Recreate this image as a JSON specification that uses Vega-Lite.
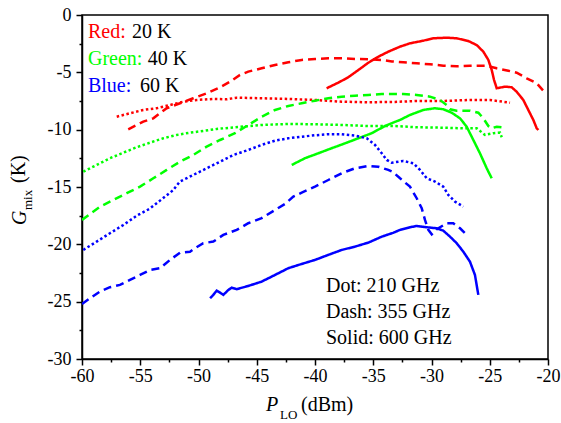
{
  "$schema": "https://vega.github.io/schema/vega-lite/v6.json",
  "width": 466,
  "height": 344,
  "autosize": {"type": "none"},
  "padding": {"left": 82, "top": 15, "right": 13, "bottom": 64},
  "background": "white",
  "config": {
    "view": {"stroke": "black", "strokeWidth": 1.5},
    "text": {"font": "Liberation Serif, Times New Roman, DejaVu Serif, serif"},
    "axis": {
      "grid": false,
      "domainColor": "black",
      "domainWidth": 1.5,
      "tickColor": "black",
      "tickWidth": 1.5,
      "labelFont": "Liberation Serif, Times New Roman, DejaVu Serif, serif",
      "labelFontSize": 18,
      "labelColor": "black",
      "labelOverlap": false,
      "labelFlush": false
    }
  },
  "encoding": {
    "x": {"field": "x", "type": "quantitative",
      "scale": {"domain": [-60, -20], "nice": false, "zero": false},
      "axis": {
        "title": null,
        "values": [-60,-57.5,-55,-52.5,-50,-47.5,-45,-42.5,-40,-37.5,-35,-32.5,-30,-27.5,-25,-22.5,-20],
        "labelExpr": "datum.value % 5 === 0 ? '' + datum.value : ''",
        "tickSize": {"condition": {"test": "datum.value % 5 === 0", "value": 6}, "value": 3},
        "labelPadding": 2
      }},
    "y": {"field": "y", "type": "quantitative",
      "scale": {"domain": [-30, 0], "nice": false, "zero": false},
      "axis": {
        "title": null,
        "values": [-30,-27.5,-25,-22.5,-20,-17.5,-15,-12.5,-10,-7.5,-5,-2.5,0],
        "labelExpr": "datum.value % 5 === 0 ? '' + datum.value : ''",
        "tickSize": {"condition": {"test": "datum.value % 5 === 0", "value": 6}, "value": 3},
        "labelPadding": 5
      }}
  },
  "layer": [
    {
      "data": {"values": [
        {"t":"20 K","f":"600 GHz","x":-39.0,"y":-6.39},{"t":"20 K","f":"600 GHz","x":-38.0,"y":-5.90},{"t":"20 K","f":"600 GHz","x":-37.14,"y":-5.43},{"t":"20 K","f":"600 GHz","x":-36.28,"y":-4.80},{"t":"20 K","f":"600 GHz","x":-35.42,"y":-4.16},{"t":"20 K","f":"600 GHz","x":-34.57,"y":-3.64},{"t":"20 K","f":"600 GHz","x":-33.71,"y":-3.20},{"t":"20 K","f":"600 GHz","x":-32.70,"y":-2.76},{"t":"20 K","f":"600 GHz","x":-31.85,"y":-2.47},{"t":"20 K","f":"600 GHz","x":-30.70,"y":-2.24},{"t":"20 K","f":"600 GHz","x":-29.85,"y":-2.03},{"t":"20 K","f":"600 GHz","x":-28.69,"y":-1.98},{"t":"20 K","f":"600 GHz","x":-27.84,"y":-2.03},{"t":"20 K","f":"600 GHz","x":-26.84,"y":-2.27},{"t":"20 K","f":"600 GHz","x":-26.12,"y":-2.62},{"t":"20 K","f":"600 GHz","x":-25.55,"y":-3.20},{"t":"20 K","f":"600 GHz","x":-25.12,"y":-3.92},{"t":"20 K","f":"600 GHz","x":-24.83,"y":-4.80},{"t":"20 K","f":"600 GHz","x":-24.63,"y":-5.67},{"t":"20 K","f":"600 GHz","x":-24.40,"y":-6.39},{"t":"20 K","f":"600 GHz","x":-23.69,"y":-6.25},{"t":"20 K","f":"600 GHz","x":-23.12,"y":-6.30},{"t":"20 K","f":"600 GHz","x":-22.69,"y":-6.69},{"t":"20 K","f":"600 GHz","x":-22.12,"y":-7.41},{"t":"20 K","f":"600 GHz","x":-21.69,"y":-8.28},{"t":"20 K","f":"600 GHz","x":-21.26,"y":-9.15},{"t":"20 K","f":"600 GHz","x":-20.97,"y":-9.88},{"t":"20 K","f":"600 GHz","x":-20.83,"y":-10.03},

        {"t":"20 K","f":"355 GHz","x":-56.03,"y":-9.97},{"t":"20 K","f":"355 GHz","x":-54.74,"y":-9.30},{"t":"20 K","f":"355 GHz","x":-53.88,"y":-9.01},{"t":"20 K","f":"355 GHz","x":-52.73,"y":-8.13},{"t":"20 K","f":"355 GHz","x":-51.59,"y":-7.70},{"t":"20 K","f":"355 GHz","x":-50.45,"y":-7.26},{"t":"20 K","f":"355 GHz","x":-49.30,"y":-6.83},{"t":"20 K","f":"355 GHz","x":-48.15,"y":-6.30},{"t":"20 K","f":"355 GHz","x":-47.30,"y":-5.82},{"t":"20 K","f":"355 GHz","x":-46.44,"y":-5.23},{"t":"20 K","f":"355 GHz","x":-45.73,"y":-4.94},{"t":"20 K","f":"355 GHz","x":-44.58,"y":-4.65},{"t":"20 K","f":"355 GHz","x":-43.43,"y":-4.36},{"t":"20 K","f":"355 GHz","x":-42.29,"y":-4.12},{"t":"20 K","f":"355 GHz","x":-41.14,"y":-3.92},{"t":"20 K","f":"355 GHz","x":-40.0,"y":-3.84},{"t":"20 K","f":"355 GHz","x":-38.86,"y":-3.78},{"t":"20 K","f":"355 GHz","x":-37.71,"y":-3.78},{"t":"20 K","f":"355 GHz","x":-36.57,"y":-3.84},{"t":"20 K","f":"355 GHz","x":-35.42,"y":-3.86},{"t":"20 K","f":"355 GHz","x":-34.27,"y":-3.92},{"t":"20 K","f":"355 GHz","x":-33.4,"y":-4.05},{"t":"20 K","f":"355 GHz","x":-32.42,"y":-4.12},{"t":"20 K","f":"355 GHz","x":-31.27,"y":-4.21},{"t":"20 K","f":"355 GHz","x":-30.13,"y":-4.30},{"t":"20 K","f":"355 GHz","x":-28.99,"y":-4.42},{"t":"20 K","f":"355 GHz","x":-27.84,"y":-4.47},{"t":"20 K","f":"355 GHz","x":-26.70,"y":-4.42},{"t":"20 K","f":"355 GHz","x":-25.26,"y":-4.42},{"t":"20 K","f":"355 GHz","x":-24.40,"y":-4.65},{"t":"20 K","f":"355 GHz","x":-23.41,"y":-4.86},{"t":"20 K","f":"355 GHz","x":-22.69,"y":-5.03},{"t":"20 K","f":"355 GHz","x":-21.83,"y":-5.52},{"t":"20 K","f":"355 GHz","x":-20.97,"y":-5.95},{"t":"20 K","f":"355 GHz","x":-20.26,"y":-6.77},

        {"t":"20 K","f":"210 GHz","x":-57.02,"y":-8.87},{"t":"20 K","f":"210 GHz","x":-55.88,"y":-8.57},{"t":"20 K","f":"210 GHz","x":-54.74,"y":-8.28},{"t":"20 K","f":"210 GHz","x":-53.59,"y":-8.13},{"t":"20 K","f":"210 GHz","x":-52.45,"y":-7.85},{"t":"20 K","f":"210 GHz","x":-51.30,"y":-7.56},{"t":"20 K","f":"210 GHz","x":-50.15,"y":-7.41},{"t":"20 K","f":"210 GHz","x":-48.73,"y":-7.32},{"t":"20 K","f":"210 GHz","x":-47.58,"y":-7.35},{"t":"20 K","f":"210 GHz","x":-46.72,"y":-7.21},{"t":"20 K","f":"210 GHz","x":-44.58,"y":-7.26},{"t":"20 K","f":"210 GHz","x":-42.29,"y":-7.32},{"t":"20 K","f":"210 GHz","x":-40.0,"y":-7.41},{"t":"20 K","f":"210 GHz","x":-37.71,"y":-7.56},{"t":"20 K","f":"210 GHz","x":-35.42,"y":-7.61},{"t":"20 K","f":"210 GHz","x":-33.13,"y":-7.58},{"t":"20 K","f":"210 GHz","x":-31.27,"y":-7.50},{"t":"20 K","f":"210 GHz","x":-28.99,"y":-7.50},{"t":"20 K","f":"210 GHz","x":-26.70,"y":-7.41},{"t":"20 K","f":"210 GHz","x":-24.98,"y":-7.41},{"t":"20 K","f":"210 GHz","x":-23.26,"y":-7.65},

        {"t":"40 K","f":"600 GHz","x":-42.0,"y":-13.08},{"t":"40 K","f":"600 GHz","x":-40.86,"y":-12.49},{"t":"40 K","f":"600 GHz","x":-39.72,"y":-12.06},{"t":"40 K","f":"600 GHz","x":-38.57,"y":-11.62},{"t":"40 K","f":"600 GHz","x":-37.42,"y":-11.19},{"t":"40 K","f":"600 GHz","x":-36.28,"y":-10.75},{"t":"40 K","f":"600 GHz","x":-35.13,"y":-10.31},{"t":"40 K","f":"600 GHz","x":-33.99,"y":-9.68},{"t":"40 K","f":"600 GHz","x":-33.2,"y":-9.35},{"t":"40 K","f":"600 GHz","x":-32.70,"y":-9.15},{"t":"40 K","f":"600 GHz","x":-31.85,"y":-8.72},{"t":"40 K","f":"600 GHz","x":-30.70,"y":-8.28},{"t":"40 K","f":"600 GHz","x":-29.70,"y":-8.13},{"t":"40 K","f":"600 GHz","x":-28.99,"y":-8.22},{"t":"40 K","f":"600 GHz","x":-28.27,"y":-8.52},{"t":"40 K","f":"600 GHz","x":-27.55,"y":-9.01},{"t":"40 K","f":"600 GHz","x":-26.98,"y":-9.74},{"t":"40 K","f":"600 GHz","x":-26.41,"y":-10.90},{"t":"40 K","f":"600 GHz","x":-25.84,"y":-12.06},{"t":"40 K","f":"600 GHz","x":-25.26,"y":-13.37},{"t":"40 K","f":"600 GHz","x":-24.83,"y":-14.24},

        {"t":"40 K","f":"355 GHz","x":-60.0,"y":-17.87},{"t":"40 K","f":"355 GHz","x":-58.45,"y":-16.71},{"t":"40 K","f":"355 GHz","x":-57.31,"y":-16.13},{"t":"40 K","f":"355 GHz","x":-56.16,"y":-15.54},{"t":"40 K","f":"355 GHz","x":-55.02,"y":-14.97},{"t":"40 K","f":"355 GHz","x":-53.88,"y":-14.24},{"t":"40 K","f":"355 GHz","x":-52.73,"y":-13.51},{"t":"40 K","f":"355 GHz","x":-51.59,"y":-12.79},{"t":"40 K","f":"355 GHz","x":-50.45,"y":-12.21},{"t":"40 K","f":"355 GHz","x":-49.30,"y":-11.48},{"t":"40 K","f":"355 GHz","x":-48.15,"y":-10.90},{"t":"40 K","f":"355 GHz","x":-46.87,"y":-10.31},{"t":"40 K","f":"355 GHz","x":-45.73,"y":-9.59},{"t":"40 K","f":"355 GHz","x":-44.58,"y":-8.87},{"t":"40 K","f":"355 GHz","x":-43.43,"y":-8.28},{"t":"40 K","f":"355 GHz","x":-42.29,"y":-7.93},{"t":"40 K","f":"355 GHz","x":-41.14,"y":-7.70},{"t":"40 K","f":"355 GHz","x":-40.0,"y":-7.47},{"t":"40 K","f":"355 GHz","x":-38.86,"y":-7.26},{"t":"40 K","f":"355 GHz","x":-37.71,"y":-7.12},{"t":"40 K","f":"355 GHz","x":-36.57,"y":-7.04},{"t":"40 K","f":"355 GHz","x":-35.42,"y":-6.97},{"t":"40 K","f":"355 GHz","x":-34.27,"y":-6.89},{"t":"40 K","f":"355 GHz","x":-33.13,"y":-6.89},{"t":"40 K","f":"355 GHz","x":-32.42,"y":-6.89},{"t":"40 K","f":"355 GHz","x":-31.27,"y":-6.97},{"t":"40 K","f":"355 GHz","x":-30.13,"y":-7.12},{"t":"40 K","f":"355 GHz","x":-29.27,"y":-7.41},{"t":"40 K","f":"355 GHz","x":-28.70,"y":-7.85},{"t":"40 K","f":"355 GHz","x":-28.41,"y":-8.22},{"t":"40 K","f":"355 GHz","x":-27.84,"y":-8.34},{"t":"40 K","f":"355 GHz","x":-26.70,"y":-8.34},{"t":"40 K","f":"355 GHz","x":-25.98,"y":-8.52},{"t":"40 K","f":"355 GHz","x":-25.55,"y":-9.01},{"t":"40 K","f":"355 GHz","x":-25.12,"y":-9.68},{"t":"40 K","f":"355 GHz","x":-24.83,"y":-9.88},{"t":"40 K","f":"355 GHz","x":-24.40,"y":-9.74},{"t":"40 K","f":"355 GHz","x":-23.97,"y":-9.79},

        {"t":"40 K","f":"210 GHz","x":-59.89,"y":-13.66},{"t":"40 K","f":"210 GHz","x":-58.74,"y":-13.08},{"t":"40 K","f":"210 GHz","x":-57.60,"y":-12.49},{"t":"40 K","f":"210 GHz","x":-56.45,"y":-12.01},{"t":"40 K","f":"210 GHz","x":-55.30,"y":-11.53},{"t":"40 K","f":"210 GHz","x":-54.16,"y":-11.13},{"t":"40 K","f":"210 GHz","x":-53.02,"y":-10.75},{"t":"40 K","f":"210 GHz","x":-51.87,"y":-10.46},{"t":"40 K","f":"210 GHz","x":-50.73,"y":-10.26},{"t":"40 K","f":"210 GHz","x":-49.59,"y":-10.11},{"t":"40 K","f":"210 GHz","x":-48.44,"y":-9.94},{"t":"40 K","f":"210 GHz","x":-47.30,"y":-9.83},{"t":"40 K","f":"210 GHz","x":-44.58,"y":-9.59},{"t":"40 K","f":"210 GHz","x":-42.29,"y":-9.50},{"t":"40 K","f":"210 GHz","x":-40.0,"y":-9.53},{"t":"40 K","f":"210 GHz","x":-37.71,"y":-9.59},{"t":"40 K","f":"210 GHz","x":-35.42,"y":-9.68},{"t":"40 K","f":"210 GHz","x":-33.13,"y":-9.68},{"t":"40 K","f":"210 GHz","x":-31.27,"y":-9.79},{"t":"40 K","f":"210 GHz","x":-28.99,"y":-9.83},{"t":"40 K","f":"210 GHz","x":-27.27,"y":-9.88},{"t":"40 K","f":"210 GHz","x":-26.12,"y":-9.88},{"t":"40 K","f":"210 GHz","x":-25.41,"y":-10.46},{"t":"40 K","f":"210 GHz","x":-24.69,"y":-10.31},{"t":"40 K","f":"210 GHz","x":-24.12,"y":-10.26},{"t":"40 K","f":"210 GHz","x":-23.97,"y":-10.66},

        {"t":"60 K","f":"210 GHz","x":-59.89,"y":-20.49},{"t":"60 K","f":"210 GHz","x":-58.74,"y":-19.76},{"t":"60 K","f":"210 GHz","x":-57.60,"y":-19.03},{"t":"60 K","f":"210 GHz","x":-56.45,"y":-18.31},{"t":"60 K","f":"210 GHz","x":-55.3,"y":-17.5},{"t":"60 K","f":"210 GHz","x":-54.2,"y":-16.9},{"t":"60 K","f":"210 GHz","x":-53.2,"y":-16.1},{"t":"60 K","f":"210 GHz","x":-52.2,"y":-15.3},{"t":"60 K","f":"210 GHz","x":-51.6,"y":-14.53},{"t":"60 K","f":"210 GHz","x":-50.45,"y":-13.95},{"t":"60 K","f":"210 GHz","x":-49.30,"y":-13.37},{"t":"60 K","f":"210 GHz","x":-48.15,"y":-12.79},{"t":"60 K","f":"210 GHz","x":-47.01,"y":-12.21},{"t":"60 K","f":"210 GHz","x":-45.73,"y":-11.77},{"t":"60 K","f":"210 GHz","x":-44.58,"y":-11.33},{"t":"60 K","f":"210 GHz","x":-43.43,"y":-10.96},{"t":"60 K","f":"210 GHz","x":-42.29,"y":-10.75},{"t":"60 K","f":"210 GHz","x":-41.14,"y":-10.61},{"t":"60 K","f":"210 GHz","x":-40.0,"y":-10.49},{"t":"60 K","f":"210 GHz","x":-38.86,"y":-10.40},{"t":"60 K","f":"210 GHz","x":-37.71,"y":-10.40},{"t":"60 K","f":"210 GHz","x":-36.57,"y":-10.52},{"t":"60 K","f":"210 GHz","x":-35.56,"y":-10.75},{"t":"60 K","f":"210 GHz","x":-34.85,"y":-11.33},{"t":"60 K","f":"210 GHz","x":-34.27,"y":-12.06},{"t":"60 K","f":"210 GHz","x":-33.84,"y":-12.64},{"t":"60 K","f":"210 GHz","x":-33.42,"y":-12.88},{"t":"60 K","f":"210 GHz","x":-32.42,"y":-12.73},{"t":"60 K","f":"210 GHz","x":-31.56,"y":-12.93},{"t":"60 K","f":"210 GHz","x":-30.99,"y":-13.51},{"t":"60 K","f":"210 GHz","x":-30.41,"y":-14.24},{"t":"60 K","f":"210 GHz","x":-29.70,"y":-14.53},{"t":"60 K","f":"210 GHz","x":-28.99,"y":-14.97},{"t":"60 K","f":"210 GHz","x":-28.56,"y":-15.69},{"t":"60 K","f":"210 GHz","x":-27.98,"y":-16.28},{"t":"60 K","f":"210 GHz","x":-27.27,"y":-16.71},

        {"t":"60 K","f":"355 GHz","x":-60.0,"y":-25.20},{"t":"60 K","f":"355 GHz","x":-59.31,"y":-24.70},{"t":"60 K","f":"355 GHz","x":-58.45,"y":-24.12},{"t":"60 K","f":"355 GHz","x":-57.60,"y":-23.74},{"t":"60 K","f":"355 GHz","x":-56.74,"y":-23.54},{"t":"60 K","f":"355 GHz","x":-55.88,"y":-23.10},{"t":"60 K","f":"355 GHz","x":-55.02,"y":-22.67},{"t":"60 K","f":"355 GHz","x":-54.16,"y":-22.23},{"t":"60 K","f":"355 GHz","x":-53.30,"y":-22.08},{"t":"60 K","f":"355 GHz","x":-52.45,"y":-21.36},{"t":"60 K","f":"355 GHz","x":-51.59,"y":-20.73},{"t":"60 K","f":"355 GHz","x":-50.73,"y":-20.64},{"t":"60 K","f":"355 GHz","x":-50.30,"y":-20.34},{"t":"60 K","f":"355 GHz","x":-49.59,"y":-19.90},{"t":"60 K","f":"355 GHz","x":-48.73,"y":-19.76},{"t":"60 K","f":"355 GHz","x":-47.87,"y":-19.18},{"t":"60 K","f":"355 GHz","x":-46.72,"y":-18.74},{"t":"60 K","f":"355 GHz","x":-45.73,"y":-18.16},{"t":"60 K","f":"355 GHz","x":-44.58,"y":-17.72},{"t":"60 K","f":"355 GHz","x":-43.43,"y":-17.00},{"t":"60 K","f":"355 GHz","x":-42.58,"y":-16.48},{"t":"60 K","f":"355 GHz","x":-41.86,"y":-15.84},{"t":"60 K","f":"355 GHz","x":-41.14,"y":-15.49},{"t":"60 K","f":"355 GHz","x":-40.0,"y":-14.97},{"t":"60 K","f":"355 GHz","x":-38.86,"y":-14.39},{"t":"60 K","f":"355 GHz","x":-37.71,"y":-13.80},{"t":"60 K","f":"355 GHz","x":-36.57,"y":-13.37},{"t":"60 K","f":"355 GHz","x":-35.42,"y":-13.16},{"t":"60 K","f":"355 GHz","x":-34.57,"y":-13.23},{"t":"60 K","f":"355 GHz","x":-33.71,"y":-13.51},{"t":"60 K","f":"355 GHz","x":-33.3,"y":-13.7},{"t":"60 K","f":"355 GHz","x":-32.70,"y":-14.24},{"t":"60 K","f":"355 GHz","x":-31.85,"y":-14.97},{"t":"60 K","f":"355 GHz","x":-31.27,"y":-15.98},{"t":"60 K","f":"355 GHz","x":-30.84,"y":-16.85},{"t":"60 K","f":"355 GHz","x":-30.56,"y":-17.87},{"t":"60 K","f":"355 GHz","x":-30.27,"y":-18.74},{"t":"60 K","f":"355 GHz","x":-29.98,"y":-19.12},{"t":"60 K","f":"355 GHz","x":-29.55,"y":-18.68},{"t":"60 K","f":"355 GHz","x":-28.70,"y":-18.16},{"t":"60 K","f":"355 GHz","x":-28.13,"y":-18.16},{"t":"60 K","f":"355 GHz","x":-27.55,"y":-18.60},{"t":"60 K","f":"355 GHz","x":-26.98,"y":-19.18},

        {"t":"60 K","f":"600 GHz","x":-49.01,"y":-24.70},{"t":"60 K","f":"600 GHz","x":-48.73,"y":-24.41},{"t":"60 K","f":"600 GHz","x":-48.44,"y":-24.04},{"t":"60 K","f":"600 GHz","x":-48.15,"y":-24.21},{"t":"60 K","f":"600 GHz","x":-47.87,"y":-24.41},{"t":"60 K","f":"600 GHz","x":-47.44,"y":-23.98},{"t":"60 K","f":"600 GHz","x":-47.15,"y":-23.78},{"t":"60 K","f":"600 GHz","x":-46.72,"y":-23.91},{"t":"60 K","f":"600 GHz","x":-46.44,"y":-23.83},{"t":"60 K","f":"600 GHz","x":-45.73,"y":-23.63},{"t":"60 K","f":"600 GHz","x":-44.58,"y":-23.25},{"t":"60 K","f":"600 GHz","x":-43.43,"y":-22.67},{"t":"60 K","f":"600 GHz","x":-42.29,"y":-22.08},{"t":"60 K","f":"600 GHz","x":-41.14,"y":-21.71},{"t":"60 K","f":"600 GHz","x":-40.0,"y":-21.36},{"t":"60 K","f":"600 GHz","x":-38.86,"y":-20.92},{"t":"60 K","f":"600 GHz","x":-37.71,"y":-20.49},{"t":"60 K","f":"600 GHz","x":-36.57,"y":-20.20},{"t":"60 K","f":"600 GHz","x":-35.42,"y":-19.85},{"t":"60 K","f":"600 GHz","x":-34.27,"y":-19.33},{"t":"60 K","f":"600 GHz","x":-33.3,"y":-19.0},{"t":"60 K","f":"600 GHz","x":-32.70,"y":-18.74},{"t":"60 K","f":"600 GHz","x":-31.85,"y":-18.51},{"t":"60 K","f":"600 GHz","x":-31.27,"y":-18.40},{"t":"60 K","f":"600 GHz","x":-30.41,"y":-18.51},{"t":"60 K","f":"600 GHz","x":-29.55,"y":-18.60},{"t":"60 K","f":"600 GHz","x":-28.99,"y":-18.81},{"t":"60 K","f":"600 GHz","x":-28.41,"y":-19.33},{"t":"60 K","f":"600 GHz","x":-27.84,"y":-19.90},{"t":"60 K","f":"600 GHz","x":-27.27,"y":-20.64},{"t":"60 K","f":"600 GHz","x":-26.70,"y":-21.51},{"t":"60 K","f":"600 GHz","x":-26.27,"y":-22.67},{"t":"60 K","f":"600 GHz","x":-25.98,"y":-24.41}
      ]},
      "mark": {"type": "line", "strokeWidth": 2.5, "clip": true},
      "encoding": {
        "color": {"field": "t", "type": "nominal",
          "scale": {"domain": ["20 K", "40 K", "60 K"], "range": ["#ff0000", "#00ff00", "#0000ff"]},
          "legend": null},
        "strokeDash": {"field": "f", "type": "nominal",
          "scale": {"domain": ["210 GHz", "355 GHz", "600 GHz"], "range": [[2.5, 2.5], [8, 5], [1, 0]]},
          "legend": null},
        "detail": {"field": "f", "type": "nominal"}
      }
    },
    {
      "data": {"values": [
        {"t": "20 K", "s": "Red:", "x": -59.49, "y": -2.0},
        {"t": "40 K", "s": "Green:", "x": -59.49, "y": -4.36},
        {"t": "60 K", "s": "Blue:", "x": -59.49, "y": -6.71}
      ]},
      "mark": {"type": "text", "align": "left", "baseline": "alphabetic", "fontSize": 20},
      "encoding": {
        "text": {"field": "s"},
        "color": {"field": "t", "type": "nominal", "legend": null}
      }
    },
    {
      "data": {"values": [
        {"s": "20 K", "x": -55.71, "y": -2.0},
        {"s": "40 K", "x": -54.36, "y": -4.36},
        {"s": "60 K", "x": -55.02, "y": -6.71},
        {"s": "Dot: 210 GHz", "x": -39.06, "y": -24.19},
        {"s": "Dash: 355 GHz", "x": -39.06, "y": -26.46},
        {"s": "Solid: 600 GHz", "x": -39.06, "y": -28.73}
      ]},
      "mark": {"type": "text", "align": "left", "baseline": "alphabetic", "fontSize": 20, "color": "black"},
      "encoding": {"text": {"field": "s"}}
    },
    {
      "data": {"values": [{"x": -40, "y": -30}]},
      "mark": {"type": "text", "align": "left", "baseline": "alphabetic", "fontSize": 20, "fontStyle": "italic", "color": "black", "dx": -49, "dy": 52},
      "encoding": {"text": {"value": "P"}}
    },
    {
      "data": {"values": [{"x": -40, "y": -30}]},
      "mark": {"type": "text", "align": "left", "baseline": "alphabetic", "fontSize": 13, "color": "black", "dx": -35, "dy": 60},
      "encoding": {"text": {"value": "LO"}}
    },
    {
      "data": {"values": [{"x": -40, "y": -30}]},
      "mark": {"type": "text", "align": "left", "baseline": "alphabetic", "fontSize": 20, "color": "black", "dx": -14, "dy": 52},
      "encoding": {"text": {"value": "(dBm)"}}
    },
    {
      "data": {"values": [{"x": -60, "y": -15}]},
      "mark": {"type": "text", "align": "left", "baseline": "alphabetic", "fontSize": 20, "fontStyle": "italic", "color": "black", "angle": -90, "dx": -38, "dy": -56},
      "encoding": {"text": {"value": "G"}}
    },
    {
      "data": {"values": [{"x": -60, "y": -15}]},
      "mark": {"type": "text", "align": "left", "baseline": "alphabetic", "fontSize": 13, "color": "black", "angle": -90, "dx": -23, "dy": -50},
      "encoding": {"text": {"value": "mix"}}
    },
    {
      "data": {"values": [{"x": -60, "y": -15}]},
      "mark": {"type": "text", "align": "left", "baseline": "alphabetic", "fontSize": 20, "color": "black", "angle": -90, "dx": 4, "dy": -57},
      "encoding": {"text": {"value": "(K)"}}
    }
  ]
}
